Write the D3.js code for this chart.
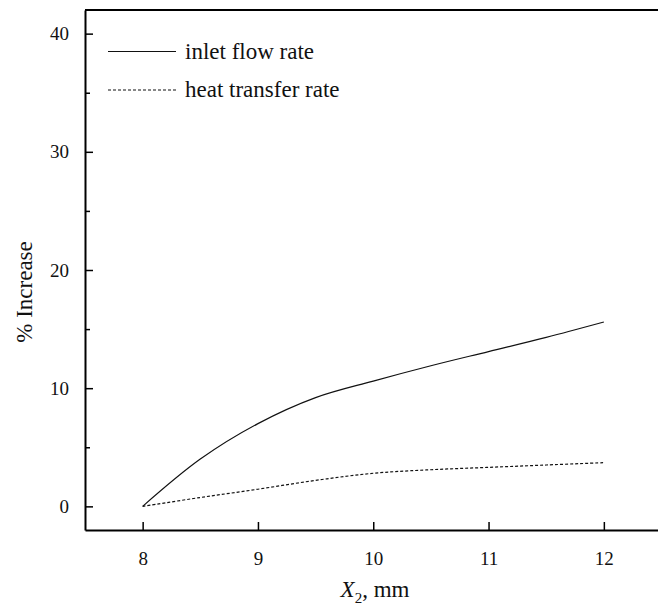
<!DOCTYPE html>
<html>
<head>
<meta charset="utf-8">
<style>
    body { margin: 0; background: #fff; }
    svg { display: block; }
    svg text { font-family: "Liberation Serif", "Times New Roman", serif; fill: #111; }
    .tick text { font-size: 19px; }
</style>
</head>
<body>
<svg width="658" height="612"></svg>
<script src="https://d3js.org/d3.v7.min.js"></script>
<script>
    // values
    let xValues = [8, 8.5, 9, 9.5, 10, 10.5, 11, 11.5, 12];
    let inletFlow = [0, 4.0, 7.0, 9.2, 10.6, 11.9, 13.1, 14.3, 15.6];
    let heatTransfer = [0, 0.75, 1.45, 2.2, 2.8, 3.1, 3.3, 3.5, 3.7];
    let xTicks = [8, 9, 10, 11, 12];
    let yTicks = [0, 10, 20, 30, 40];
    let yMinor = [5, 15, 25, 35];

    let plotLeft = 85, plotTop = 10, plotBottom = 530, plotRight = 661.5;
    let svg = d3.select("svg");

    let x = d3.scaleLinear().domain([7.5, 12.5]).range([plotLeft, plotRight]);
    let y = d3.scaleLinear().domain([-2, 42]).range([plotBottom, plotTop]);

    // x axis, ticks pointing inward
    let xAxis = svg.append("g")
        .attr("transform", "translate(0," + plotBottom + ")")
        .call(d3.axisBottom(x).tickValues(xTicks).tickFormat(d3.format("d"))
            .tickSize(-8).tickPadding(22).tickSizeOuter(0));
    xAxis.attr("font-family", null);
    xAxis.select(".domain").attr("stroke-width", 2);
    xAxis.selectAll(".tick line").attr("stroke-width", 1.5);

    let yAxis = svg.append("g")
        .attr("transform", "translate(" + plotLeft + ",0)")
        .call(d3.axisLeft(y).tickValues(yTicks).tickFormat(d3.format("d"))
            .tickSize(-8).tickPadding(16).tickSizeOuter(0));
    yAxis.attr("font-family", null);
    yAxis.select(".domain").attr("stroke-width", 2);
    yAxis.selectAll(".tick line").attr("stroke-width", 1.5);

    svg.append("g")
        .attr("transform", "translate(" + plotLeft + ",0)")
        .call(d3.axisLeft(y).tickValues(yMinor).tickSize(-5).tickFormat("").tickSizeOuter(0))
        .call(g => g.select(".domain").remove())
        .selectAll(".tick line").attr("stroke-width", 1.5);

    // top frame line (no right side)
    svg.append("line")
        .attr("x1", plotLeft).attr("x2", 658)
        .attr("y1", plotTop).attr("y2", plotTop)
        .attr("stroke", "#000").attr("stroke-width", 2);

    let line = d3.line()
        .x((d, i) => x(xValues[i]))
        .y(d => y(d))
        .curve(d3.curveCatmullRom.alpha(0.5));

    svg.append("path")
        .datum(inletFlow)
        .attr("d", line)
        .attr("fill", "none")
        .attr("stroke", "#111")
        .attr("stroke-width", 1.2);

    svg.append("path")
        .datum(heatTransfer)
        .attr("d", line)
        .attr("fill", "none")
        .attr("stroke", "#111")
        .attr("stroke-width", 1.2)
        .attr("stroke-dasharray", "3,2");

    // legend
    let legend = [
        { label: "inlet flow rate", dash: null, yPos: 51.5 },
        { label: "heat transfer rate", dash: "3,2", yPos: 90 }
    ];
    legend.forEach(d => {
        svg.append("line")
            .attr("x1", 108).attr("x2", 176)
            .attr("y1", d.yPos).attr("y2", d.yPos)
            .attr("stroke", "#111").attr("stroke-width", 1.2)
            .attr("stroke-dasharray", d.dash);
        svg.append("text")
            .attr("x", 185).attr("y", d.yPos + 7)
            .style("font-size", "23px")
            .text(d.label);
    });

    // axis titles
    let xt = svg.append("text")
        .attr("x", 375).attr("y", 597)
        .attr("text-anchor", "middle")
        .style("font-size", "23px");
    xt.append("tspan").style("font-style", "italic").text("X");
    xt.append("tspan").attr("dy", 6).style("font-size", "15px").text("2");
    xt.append("tspan").attr("dy", -6).text(", mm");

    svg.append("text")
        .attr("transform", "translate(32,292) rotate(-90)")
        .attr("text-anchor", "middle")
        .style("font-size", "23px")
        .text("% Increase");
</script>
</body>
</html>
